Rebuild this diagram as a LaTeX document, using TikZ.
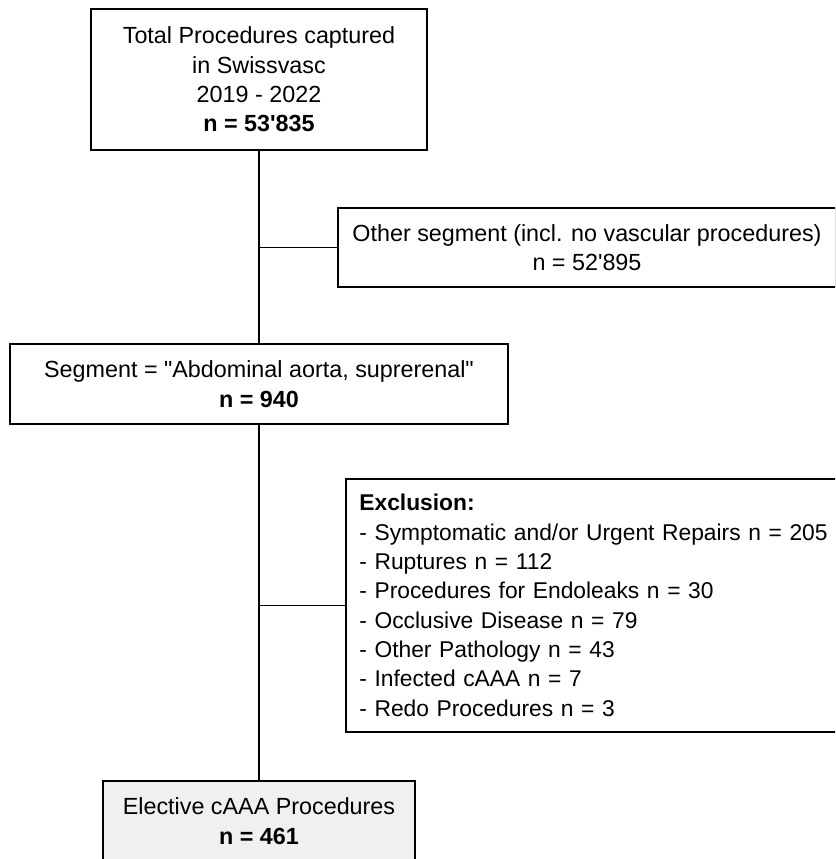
\documentclass[tikz,border=0pt]{standalone}
\usepackage{fontspec}
\setmainfont{Liberation Sans}
\usetikzlibrary{positioning}
\begin{document}
\begin{tikzpicture}[x=0.75pt, y=-0.75pt, line width=1pt,
   font=\fontsize{17.5}{22}\selectfont,
   box/.style={draw, align=center, inner sep=0pt},
   gbox/.style={box, fill=gray!12}]
\useasboundingbox (0,0) rectangle (835,859);
\clip (0,0) rectangle (835,859);
\node[box, minimum width=252pt, minimum height=105.75pt] (total) at (259,79.5)
  {Total Procedures captured\\in Swissvasc\\2019 - 2022\\\textbf{n = 53\textquotesingle835}};
\node[box, minimum width=373.5pt, minimum height=59.25pt] (other) at (587,247.5)
  {Other segment (incl. no vascular procedures)\\n = 52\textquotesingle895};
\node[box, minimum width=373.5pt, minimum height=60pt] (seg) at (259,384)
  {Segment = \textquotedbl Abdominal aorta, suprerenal\textquotedbl\\\textbf{n = 940}};
\node[box, align=left, text width=380pt, inner xsep=10pt, minimum height=189.75pt,
  font=\fontsize{17.1}{22}\selectfont] (excl) at (612.7,605.5)
  {\textbf{Exclusion:}\\- Symptomatic and/or Urgent Repairs n = 205\\- Ruptures n = 112\\- Procedures for Endoleaks n = 30\\- Occlusive Disease n = 79\\- Other Pathology n = 43\\- Infected cAAA n = 7\\- Redo Procedures n = 3};
\node[gbox, minimum width=234pt, minimum height=60pt] (elect) at (259,821)
  {Elective cAAA Procedures\\\textbf{n = 461}};
\draw (total) -- (seg);
\draw (seg) -- (elect);
\draw (other.west) -- (other.west -| total.south);
\draw (excl.west) -- (excl.west -| seg.south);
\end{tikzpicture}
\end{document}
